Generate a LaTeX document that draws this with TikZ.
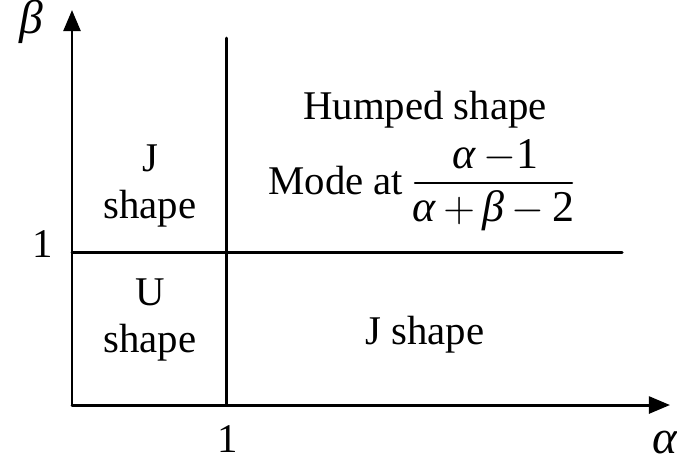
\documentclass[tikz,border=0pt]{standalone}
\usepackage{amsmath}
\usepackage{fontspec}
\setmainfont{Liberation Serif}
\usetikzlibrary{arrows.meta}
\begin{document}
\begin{tikzpicture}[x=0.01cm,y=-0.01cm,line cap=round,line join=round,
  every node/.style={font=\fontsize{11.6}{13.2}\selectfont},
  region/.style={align=center,inner sep=0pt},
  greek/.style={font=\fontsize{13.5}{16}\selectfont,inner sep=1pt},
  axisline/.style={line width=0.85pt,-{Triangle[length=6pt,width=4.8pt]}},
  gridline/.style={line width=0.85pt}]
\useasboundingbox (0,0) rectangle (677,463);
\def\ox{72}
\def\oy{405}
\def\one{226}
\def\onb{252}

\coordinate (O) at (\ox,\oy);
\coordinate (xend) at (670,\oy);
\coordinate (yend) at (\ox,10);
\draw[axisline] (O) -- (xend);
\draw[axisline] (O) -- (yend);
\node[greek] (alab) at (665,443) {\textit{α}};
\node[greek] (blab) at (31,22) {\textit{β}};

\coordinate (vtop) at (\one,38);
\coordinate (vbot) at (\one,\oy);
\coordinate (hleft) at (\ox,\onb);
\coordinate (hright) at (622,\onb);
\draw[gridline] (vtop) -- (vbot);
\draw[gridline] (hleft) -- (hright);
\node (xone) at (228,439) {1};
\node (yone) at (43,244) {1};

\node[region] (jtop) at (150,186) {J\\shape};
\node[region] (ubox) at (150,320) {U\\shape};
\node[region] (hump) at (425,110) {Humped shape};
\node[region,anchor=east] (mode) at (404,181) {Mode at};
% the fraction: numerator, bar, denominator
\node[region,font=\fontsize{12.5}{14}\selectfont] (num) at (495,156) {\textit{α}\,$-$1};
\node[region,font=\fontsize{12.5}{14}\selectfont] (den) at (493,211) {\textit{α}\,$+$\,\textit{β}\,$-$\,2};
\coordinate (barl) at (415,183);
\coordinate (barr) at (572,183);
\draw[line width=0.7pt] (barl) -- (barr);
\node[region] (jbot) at (425,335) {J shape};
\end{tikzpicture}
\end{document}
